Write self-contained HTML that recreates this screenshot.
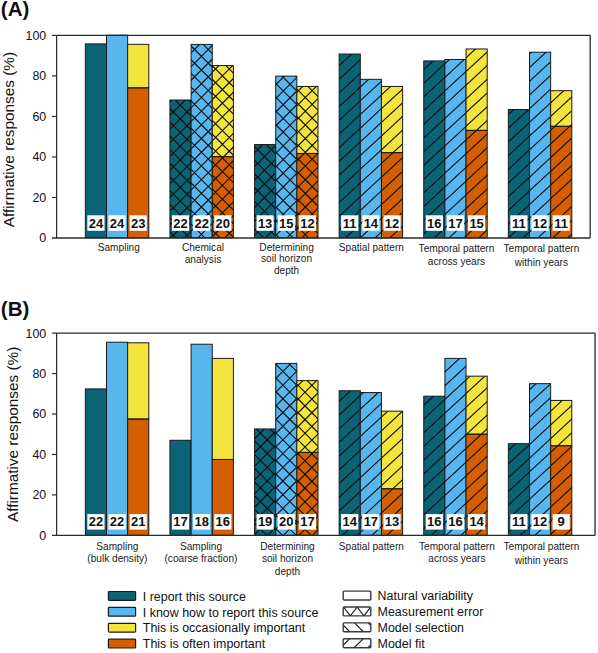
<!DOCTYPE html><html><head><meta charset="utf-8"><style>html,body{margin:0;padding:0;background:#fff;width:598px;height:653px;overflow:hidden}svg{display:block}text{font-family:"Liberation Sans", sans-serif}</style></head><body>
<svg width="598" height="653" viewBox="0 0 598 653">
<text x="0.8" y="16.1" font-size="20.6" font-weight="bold" fill="#111">(A)</text>
<rect x="85.35" y="43.91" width="21.15" height="193.79" fill="#0a6476"/>
<rect x="85.35" y="43.91" width="21.15" height="193.79" fill="none" stroke="#1a1a1a" stroke-width="1"/>
<rect x="87.33" y="215.30" width="17.2" height="15.5" fill="#fff"/>
<text x="95.92" y="227.80" font-size="13" font-weight="bold" text-anchor="middle" fill="#111">24</text>
<rect x="106.50" y="35.20" width="21.15" height="202.50" fill="#57b6ed"/>
<rect x="106.50" y="35.20" width="21.15" height="202.50" fill="none" stroke="#1a1a1a" stroke-width="1"/>
<rect x="108.48" y="215.30" width="17.2" height="15.5" fill="#fff"/>
<text x="117.08" y="227.80" font-size="13" font-weight="bold" text-anchor="middle" fill="#111">24</text>
<rect x="127.65" y="44.31" width="21.15" height="43.54" fill="#f3e53c"/>
<rect x="127.65" y="87.85" width="21.15" height="149.85" fill="#d55e00"/>
<rect x="127.65" y="44.31" width="21.15" height="43.54" fill="none" stroke="#1a1a1a" stroke-width="1"/>
<rect x="127.65" y="87.85" width="21.15" height="149.85" fill="none" stroke="#1a1a1a" stroke-width="1"/>
<rect x="129.62" y="215.30" width="17.2" height="15.5" fill="#fff"/>
<text x="138.22" y="227.80" font-size="13" font-weight="bold" text-anchor="middle" fill="#111">23</text>
<text x="118.82" y="250.80" font-size="10.1" text-anchor="middle" fill="#222">Sampling</text>
<rect x="169.95" y="100.00" width="21.15" height="137.70" fill="#0a6476"/>
<clipPath id="c1"><rect x="169.95" y="100.00" width="21.15" height="137.70"/></clipPath>
<path d="M4.50 239.70L146.20 98.00M18.20 239.70L159.90 98.00M31.90 239.70L173.60 98.00M45.60 239.70L187.30 98.00M59.30 239.70L201.00 98.00M73.00 239.70L214.70 98.00M86.70 239.70L228.40 98.00M100.40 239.70L242.10 98.00M114.10 239.70L255.80 98.00M127.80 239.70L269.50 98.00M141.50 239.70L283.20 98.00M155.20 239.70L296.90 98.00M168.90 239.70L310.60 98.00M182.60 239.70L324.30 98.00M196.30 239.70L338.00 98.00M210.00 239.70L351.70 98.00M8.70 98.00L150.40 239.70M22.40 98.00L164.10 239.70M36.10 98.00L177.80 239.70M49.80 98.00L191.50 239.70M63.50 98.00L205.20 239.70M77.20 98.00L218.90 239.70M90.90 98.00L232.60 239.70M104.60 98.00L246.30 239.70M118.30 98.00L260.00 239.70M132.00 98.00L273.70 239.70M145.70 98.00L287.40 239.70M159.40 98.00L301.10 239.70M173.10 98.00L314.80 239.70M186.80 98.00L328.50 239.70M200.50 98.00L342.20 239.70M214.20 98.00L355.90 239.70" stroke="#0d0d0d" stroke-width="1.1" fill="none" clip-path="url(#c1)"/>
<rect x="169.95" y="100.00" width="21.15" height="137.70" fill="none" stroke="#1a1a1a" stroke-width="1"/>
<rect x="171.92" y="215.30" width="17.2" height="15.5" fill="#fff"/>
<text x="180.52" y="227.80" font-size="13" font-weight="bold" text-anchor="middle" fill="#111">22</text>
<rect x="191.10" y="44.41" width="21.15" height="193.29" fill="#57b6ed"/>
<clipPath id="c2"><rect x="191.10" y="44.41" width="21.15" height="193.29"/></clipPath>
<path d="M-23.10 239.70L174.19 42.41M-9.40 239.70L187.89 42.41M4.30 239.70L201.59 42.41M18.00 239.70L215.29 42.41M31.70 239.70L228.99 42.41M45.40 239.70L242.69 42.41M59.10 239.70L256.39 42.41M72.80 239.70L270.09 42.41M86.50 239.70L283.79 42.41M100.20 239.70L297.49 42.41M113.90 239.70L311.19 42.41M127.60 239.70L324.89 42.41M141.30 239.70L338.59 42.41M155.00 239.70L352.29 42.41M168.70 239.70L365.99 42.41M182.40 239.70L379.69 42.41M196.10 239.70L393.39 42.41M209.80 239.70L407.09 42.41M223.50 239.70L420.79 42.41M237.20 239.70L434.49 42.41M-17.99 42.41L179.30 239.70M-4.29 42.41L193.00 239.70M9.41 42.41L206.70 239.70M23.11 42.41L220.40 239.70M36.81 42.41L234.10 239.70M50.51 42.41L247.80 239.70M64.21 42.41L261.50 239.70M77.91 42.41L275.20 239.70M91.61 42.41L288.90 239.70M105.31 42.41L302.60 239.70M119.01 42.41L316.30 239.70M132.71 42.41L330.00 239.70M146.41 42.41L343.70 239.70M160.11 42.41L357.40 239.70M173.81 42.41L371.10 239.70M187.51 42.41L384.80 239.70M201.21 42.41L398.50 239.70M214.91 42.41L412.20 239.70M228.61 42.41L425.90 239.70" stroke="#0d0d0d" stroke-width="1.1" fill="none" clip-path="url(#c2)"/>
<rect x="191.10" y="44.41" width="21.15" height="193.29" fill="none" stroke="#1a1a1a" stroke-width="1"/>
<rect x="193.07" y="215.30" width="17.2" height="15.5" fill="#fff"/>
<text x="201.67" y="227.80" font-size="13" font-weight="bold" text-anchor="middle" fill="#111">22</text>
<rect x="212.25" y="65.57" width="21.15" height="91.12" fill="#f3e53c"/>
<rect x="212.25" y="156.70" width="21.15" height="81.00" fill="#d55e00"/>
<clipPath id="c3"><rect x="212.25" y="65.57" width="21.15" height="172.12"/></clipPath>
<path d="M17.40 239.70L193.53 63.57M31.10 239.70L207.23 63.57M44.80 239.70L220.93 63.57M58.50 239.70L234.63 63.57M72.20 239.70L248.33 63.57M85.90 239.70L262.03 63.57M99.60 239.70L275.73 63.57M113.30 239.70L289.43 63.57M127.00 239.70L303.13 63.57M140.70 239.70L316.83 63.57M154.40 239.70L330.53 63.57M168.10 239.70L344.23 63.57M181.80 239.70L357.93 63.57M195.50 239.70L371.63 63.57M209.20 239.70L385.33 63.57M222.90 239.70L399.03 63.57M236.60 239.70L412.73 63.57M250.30 239.70L426.43 63.57M18.38 63.57L194.50 239.70M32.08 63.57L208.20 239.70M45.78 63.57L221.90 239.70M59.48 63.57L235.60 239.70M73.18 63.57L249.30 239.70M86.88 63.57L263.00 239.70M100.58 63.57L276.70 239.70M114.28 63.57L290.40 239.70M127.98 63.57L304.10 239.70M141.68 63.57L317.80 239.70M155.38 63.57L331.50 239.70M169.07 63.57L345.20 239.70M182.78 63.57L358.90 239.70M196.47 63.57L372.60 239.70M210.18 63.57L386.30 239.70M223.88 63.57L400.00 239.70M237.57 63.57L413.70 239.70M251.28 63.57L427.40 239.70" stroke="#0d0d0d" stroke-width="1.1" fill="none" clip-path="url(#c3)"/>
<rect x="212.25" y="65.57" width="21.15" height="91.12" fill="none" stroke="#1a1a1a" stroke-width="1"/>
<rect x="212.25" y="156.70" width="21.15" height="81.00" fill="none" stroke="#1a1a1a" stroke-width="1"/>
<rect x="214.22" y="215.30" width="17.2" height="15.5" fill="#fff"/>
<text x="222.82" y="227.80" font-size="13" font-weight="bold" text-anchor="middle" fill="#111">20</text>
<text x="202.97" y="250.60" font-size="10.1" text-anchor="middle" fill="#222">Chemical</text>
<text x="202.97" y="263.10" font-size="10.1" text-anchor="middle" fill="#222">analysis</text>
<rect x="254.55" y="144.55" width="21.15" height="93.15" fill="#0a6476"/>
<clipPath id="c4"><rect x="254.55" y="144.55" width="21.15" height="93.15"/></clipPath>
<path d="M140.20 239.70L237.35 142.55M153.90 239.70L251.05 142.55M167.60 239.70L264.75 142.55M181.30 239.70L278.45 142.55M195.00 239.70L292.15 142.55M208.70 239.70L305.85 142.55M222.40 239.70L319.55 142.55M236.10 239.70L333.25 142.55M249.80 239.70L346.95 142.55M263.50 239.70L360.65 142.55M277.20 239.70L374.35 142.55M290.90 239.70L388.05 142.55M140.95 142.55L238.10 239.70M154.65 142.55L251.80 239.70M168.35 142.55L265.50 239.70M182.05 142.55L279.20 239.70M195.75 142.55L292.90 239.70M209.45 142.55L306.60 239.70M223.15 142.55L320.30 239.70M236.85 142.55L334.00 239.70M250.55 142.55L347.70 239.70M264.25 142.55L361.40 239.70M277.95 142.55L375.10 239.70M291.65 142.55L388.80 239.70" stroke="#0d0d0d" stroke-width="1.1" fill="none" clip-path="url(#c4)"/>
<rect x="254.55" y="144.55" width="21.15" height="93.15" fill="none" stroke="#1a1a1a" stroke-width="1"/>
<rect x="256.52" y="215.30" width="17.2" height="15.5" fill="#fff"/>
<text x="265.12" y="227.80" font-size="13" font-weight="bold" text-anchor="middle" fill="#111">13</text>
<rect x="275.70" y="76.10" width="21.15" height="161.59" fill="#57b6ed"/>
<clipPath id="c5"><rect x="275.70" y="76.10" width="21.15" height="161.59"/></clipPath>
<path d="M93.40 239.70L259.00 74.10M107.10 239.70L272.70 74.10M120.80 239.70L286.39 74.10M134.50 239.70L300.10 74.10M148.20 239.70L313.79 74.10M161.90 239.70L327.50 74.10M175.60 239.70L341.20 74.10M189.30 239.70L354.89 74.10M203.00 239.70L368.60 74.10M216.70 239.70L382.29 74.10M230.40 239.70L396.00 74.10M244.10 239.70L409.69 74.10M257.80 239.70L423.39 74.10M271.50 239.70L437.10 74.10M285.20 239.70L450.79 74.10M298.90 239.70L464.50 74.10M312.60 239.70L478.19 74.10M88.20 74.10L253.80 239.70M101.90 74.10L267.50 239.70M115.60 74.10L281.20 239.70M129.30 74.10L294.90 239.70M143.00 74.10L308.60 239.70M156.70 74.10L322.30 239.70M170.40 74.10L336.00 239.70M184.10 74.10L349.70 239.70M197.80 74.10L363.40 239.70M211.50 74.10L377.10 239.70M225.20 74.10L390.80 239.70M238.90 74.10L404.50 239.70M252.60 74.10L418.20 239.70M266.30 74.10L431.90 239.70M280.00 74.10L445.60 239.70M293.70 74.10L459.30 239.70M307.40 74.10L473.00 239.70M321.11 74.10L486.70 239.70" stroke="#0d0d0d" stroke-width="1.1" fill="none" clip-path="url(#c5)"/>
<rect x="275.70" y="76.10" width="21.15" height="161.59" fill="none" stroke="#1a1a1a" stroke-width="1"/>
<rect x="277.67" y="215.30" width="17.2" height="15.5" fill="#fff"/>
<text x="286.27" y="227.80" font-size="13" font-weight="bold" text-anchor="middle" fill="#111">15</text>
<rect x="296.85" y="86.43" width="21.15" height="67.03" fill="#f3e53c"/>
<rect x="296.85" y="153.46" width="21.15" height="84.24" fill="#d55e00"/>
<clipPath id="c6"><rect x="296.85" y="86.43" width="21.15" height="151.27"/></clipPath>
<path d="M122.00 239.70L277.27 84.43M135.70 239.70L290.97 84.43M149.40 239.70L304.67 84.43M163.10 239.70L318.37 84.43M176.80 239.70L332.07 84.43M190.50 239.70L345.77 84.43M204.20 239.70L359.47 84.43M217.90 239.70L373.17 84.43M231.60 239.70L386.87 84.43M245.30 239.70L400.57 84.43M259.00 239.70L414.27 84.43M272.70 239.70L427.97 84.43M286.40 239.70L441.67 84.43M300.10 239.70L455.37 84.43M313.80 239.70L469.07 84.43M327.50 239.70L482.77 84.43M341.20 239.70L496.47 84.43M127.83 84.43L283.10 239.70M141.53 84.43L296.80 239.70M155.23 84.43L310.50 239.70M168.93 84.43L324.20 239.70M182.63 84.43L337.90 239.70M196.33 84.43L351.60 239.70M210.03 84.43L365.30 239.70M223.73 84.43L379.00 239.70M237.43 84.43L392.70 239.70M251.13 84.43L406.40 239.70M264.83 84.43L420.10 239.70M278.53 84.43L433.80 239.70M292.23 84.43L447.50 239.70M305.93 84.43L461.20 239.70M319.63 84.43L474.90 239.70M333.33 84.43L488.60 239.70" stroke="#0d0d0d" stroke-width="1.1" fill="none" clip-path="url(#c6)"/>
<rect x="296.85" y="86.43" width="21.15" height="67.03" fill="none" stroke="#1a1a1a" stroke-width="1"/>
<rect x="296.85" y="153.46" width="21.15" height="84.24" fill="none" stroke="#1a1a1a" stroke-width="1"/>
<rect x="298.82" y="215.30" width="17.2" height="15.5" fill="#fff"/>
<text x="307.42" y="227.80" font-size="13" font-weight="bold" text-anchor="middle" fill="#111">12</text>
<text x="286.57" y="250.90" font-size="10.1" text-anchor="middle" fill="#222">Determining</text>
<text x="286.57" y="262.00" font-size="10.1" text-anchor="middle" fill="#222">soil horizon</text>
<text x="286.57" y="274.30" font-size="10.1" text-anchor="middle" fill="#222">depth</text>
<rect x="339.15" y="54.03" width="21.15" height="183.67" fill="#0a6476"/>
<clipPath id="c7"><rect x="339.15" y="54.03" width="21.15" height="183.67"/></clipPath>
<path d="M337.15 40.01L362.30 16.74M337.15 53.71L362.30 30.44M337.15 67.41L362.30 44.14M337.15 81.11L362.30 57.84M337.15 94.81L362.30 71.54M337.15 108.51L362.30 85.24M337.15 122.21L362.30 98.94M337.15 135.91L362.30 112.64M337.15 149.61L362.30 126.34M337.15 163.31L362.30 140.04M337.15 177.01L362.30 153.74M337.15 190.71L362.30 167.44M337.15 204.41L362.30 181.14M337.15 218.11L362.30 194.84M337.15 231.81L362.30 208.54M337.15 245.51L362.30 222.24M337.15 259.21L362.30 235.94M337.15 272.91L362.30 249.64" stroke="#0d0d0d" stroke-width="1.1" fill="none" clip-path="url(#c7)"/>
<rect x="339.15" y="54.03" width="21.15" height="183.67" fill="none" stroke="#1a1a1a" stroke-width="1"/>
<rect x="341.12" y="215.30" width="17.2" height="15.5" fill="#fff"/>
<text x="349.72" y="227.80" font-size="13" font-weight="bold" text-anchor="middle" fill="#111">11</text>
<rect x="360.30" y="79.34" width="21.15" height="158.35" fill="#57b6ed"/>
<clipPath id="c8"><rect x="360.30" y="79.34" width="21.15" height="158.35"/></clipPath>
<path d="M358.30 61.54L383.45 38.28M358.30 75.24L383.45 51.98M358.30 88.94L383.45 65.68M358.30 102.64L383.45 79.38M358.30 116.34L383.45 93.08M358.30 130.04L383.45 106.78M358.30 143.74L383.45 120.48M358.30 157.44L383.45 134.18M358.30 171.14L383.45 147.88M358.30 184.84L383.45 161.58M358.30 198.54L383.45 175.28M358.30 212.24L383.45 188.98M358.30 225.94L383.45 202.68M358.30 239.64L383.45 216.38M358.30 253.34L383.45 230.08M358.30 267.04L383.45 243.78M358.30 280.74L383.45 257.48" stroke="#0d0d0d" stroke-width="1.1" fill="none" clip-path="url(#c8)"/>
<rect x="360.30" y="79.34" width="21.15" height="158.35" fill="none" stroke="#1a1a1a" stroke-width="1"/>
<rect x="362.27" y="215.30" width="17.2" height="15.5" fill="#fff"/>
<text x="370.87" y="227.80" font-size="13" font-weight="bold" text-anchor="middle" fill="#111">14</text>
<rect x="381.45" y="86.43" width="21.15" height="66.22" fill="#f3e53c"/>
<rect x="381.45" y="152.65" width="21.15" height="85.05" fill="#d55e00"/>
<clipPath id="c9"><rect x="381.45" y="86.43" width="21.15" height="151.27"/></clipPath>
<path d="M379.45 69.38L404.60 46.11M379.45 83.08L404.60 59.81M379.45 96.78L404.60 73.51M379.45 110.48L404.60 87.21M379.45 124.18L404.60 100.91M379.45 137.88L404.60 114.61M379.45 151.58L404.60 128.31M379.45 165.28L404.60 142.01M379.45 178.98L404.60 155.71M379.45 192.68L404.60 169.41M379.45 206.38L404.60 183.11M379.45 220.08L404.60 196.81M379.45 233.78L404.60 210.51M379.45 247.48L404.60 224.21M379.45 261.18L404.60 237.91M379.45 274.88L404.60 251.61" stroke="#0d0d0d" stroke-width="1.1" fill="none" clip-path="url(#c9)"/>
<rect x="381.45" y="86.43" width="21.15" height="66.22" fill="none" stroke="#1a1a1a" stroke-width="1"/>
<rect x="381.45" y="152.65" width="21.15" height="85.05" fill="none" stroke="#1a1a1a" stroke-width="1"/>
<rect x="383.42" y="215.30" width="17.2" height="15.5" fill="#fff"/>
<text x="392.02" y="227.80" font-size="13" font-weight="bold" text-anchor="middle" fill="#111">12</text>
<text x="371.38" y="251.00" font-size="10.1" text-anchor="middle" fill="#222">Spatial pattern</text>
<rect x="423.75" y="60.92" width="21.15" height="176.78" fill="#0a6476"/>
<clipPath id="c10"><rect x="423.75" y="60.92" width="21.15" height="176.78"/></clipPath>
<path d="M421.75 43.95L446.90 20.69M421.75 57.65L446.90 34.39M421.75 71.35L446.90 48.09M421.75 85.05L446.90 61.79M421.75 98.75L446.90 75.49M421.75 112.45L446.90 89.19M421.75 126.15L446.90 102.89M421.75 139.85L446.90 116.59M421.75 153.55L446.90 130.29M421.75 167.25L446.90 143.99M421.75 180.95L446.90 157.69M421.75 194.65L446.90 171.39M421.75 208.35L446.90 185.09M421.75 222.05L446.90 198.79M421.75 235.75L446.90 212.49M421.75 249.45L446.90 226.19M421.75 263.15L446.90 239.89M421.75 276.85L446.90 253.59" stroke="#0d0d0d" stroke-width="1.1" fill="none" clip-path="url(#c10)"/>
<rect x="423.75" y="60.92" width="21.15" height="176.78" fill="none" stroke="#1a1a1a" stroke-width="1"/>
<rect x="425.72" y="215.30" width="17.2" height="15.5" fill="#fff"/>
<text x="434.32" y="227.80" font-size="13" font-weight="bold" text-anchor="middle" fill="#111">16</text>
<rect x="444.90" y="59.50" width="21.15" height="178.20" fill="#57b6ed"/>
<clipPath id="c11"><rect x="444.90" y="59.50" width="21.15" height="178.20"/></clipPath>
<path d="M442.90 38.09L468.05 14.82M442.90 51.79L468.05 28.52M442.90 65.49L468.05 42.22M442.90 79.19L468.05 55.92M442.90 92.89L468.05 69.62M442.90 106.59L468.05 83.32M442.90 120.29L468.05 97.02M442.90 133.99L468.05 110.72M442.90 147.69L468.05 124.42M442.90 161.39L468.05 138.12M442.90 175.09L468.05 151.82M442.90 188.79L468.05 165.52M442.90 202.49L468.05 179.22M442.90 216.19L468.05 192.92M442.90 229.89L468.05 206.62M442.90 243.59L468.05 220.32M442.90 257.29L468.05 234.02M442.90 270.99L468.05 247.72M442.90 284.69L468.05 261.42" stroke="#0d0d0d" stroke-width="1.1" fill="none" clip-path="url(#c11)"/>
<rect x="444.90" y="59.50" width="21.15" height="178.20" fill="none" stroke="#1a1a1a" stroke-width="1"/>
<rect x="446.87" y="215.30" width="17.2" height="15.5" fill="#fff"/>
<text x="455.47" y="227.80" font-size="13" font-weight="bold" text-anchor="middle" fill="#111">17</text>
<rect x="466.05" y="48.97" width="21.15" height="81.41" fill="#f3e53c"/>
<rect x="466.05" y="130.38" width="21.15" height="107.32" fill="#d55e00"/>
<clipPath id="c12"><rect x="466.05" y="48.97" width="21.15" height="188.73"/></clipPath>
<path d="M464.05 32.22L489.20 8.96M464.05 45.92L489.20 22.66M464.05 59.62L489.20 36.36M464.05 73.32L489.20 50.06M464.05 87.02L489.20 63.76M464.05 100.72L489.20 77.46M464.05 114.42L489.20 91.16M464.05 128.12L489.20 104.86M464.05 141.82L489.20 118.56M464.05 155.52L489.20 132.26M464.05 169.22L489.20 145.96M464.05 182.92L489.20 159.66M464.05 196.62L489.20 173.36M464.05 210.32L489.20 187.06M464.05 224.02L489.20 200.76M464.05 237.72L489.20 214.46M464.05 251.42L489.20 228.16M464.05 265.12L489.20 241.86M464.05 278.82L489.20 255.56" stroke="#0d0d0d" stroke-width="1.1" fill="none" clip-path="url(#c12)"/>
<rect x="466.05" y="48.97" width="21.15" height="81.41" fill="none" stroke="#1a1a1a" stroke-width="1"/>
<rect x="466.05" y="130.38" width="21.15" height="107.32" fill="none" stroke="#1a1a1a" stroke-width="1"/>
<rect x="468.02" y="215.30" width="17.2" height="15.5" fill="#fff"/>
<text x="476.62" y="227.80" font-size="13" font-weight="bold" text-anchor="middle" fill="#111">15</text>
<text x="456.48" y="251.70" font-size="10.1" text-anchor="middle" fill="#222">Temporal pattern</text>
<text x="456.48" y="264.60" font-size="10.1" text-anchor="middle" fill="#222">across years</text>
<rect x="508.35" y="109.52" width="21.15" height="128.18" fill="#0a6476"/>
<clipPath id="c13"><rect x="508.35" y="109.52" width="21.15" height="128.18"/></clipPath>
<path d="M506.35 89.00L531.50 65.73M506.35 102.70L531.50 79.43M506.35 116.40L531.50 93.13M506.35 130.10L531.50 106.83M506.35 143.80L531.50 120.53M506.35 157.50L531.50 134.23M506.35 171.20L531.50 147.93M506.35 184.90L531.50 161.63M506.35 198.60L531.50 175.33M506.35 212.30L531.50 189.03M506.35 226.00L531.50 202.73M506.35 239.70L531.50 216.43M506.35 253.40L531.50 230.13M506.35 267.10L531.50 243.83M506.35 280.80L531.50 257.53" stroke="#0d0d0d" stroke-width="1.1" fill="none" clip-path="url(#c13)"/>
<rect x="508.35" y="109.52" width="21.15" height="128.18" fill="none" stroke="#1a1a1a" stroke-width="1"/>
<rect x="510.33" y="215.30" width="17.2" height="15.5" fill="#fff"/>
<text x="518.93" y="227.80" font-size="13" font-weight="bold" text-anchor="middle" fill="#111">11</text>
<rect x="529.50" y="52.21" width="21.15" height="185.49" fill="#57b6ed"/>
<clipPath id="c14"><rect x="529.50" y="52.21" width="21.15" height="185.49"/></clipPath>
<path d="M527.50 28.33L552.65 5.07M527.50 42.03L552.65 18.77M527.50 55.73L552.65 32.47M527.50 69.43L552.65 46.17M527.50 83.13L552.65 59.87M527.50 96.83L552.65 73.57M527.50 110.53L552.65 87.27M527.50 124.23L552.65 100.97M527.50 137.93L552.65 114.67M527.50 151.63L552.65 128.37M527.50 165.33L552.65 142.07M527.50 179.03L552.65 155.77M527.50 192.73L552.65 169.47M527.50 206.43L552.65 183.17M527.50 220.13L552.65 196.87M527.50 233.83L552.65 210.57M527.50 247.53L552.65 224.27M527.50 261.23L552.65 237.97M527.50 274.93L552.65 251.67" stroke="#0d0d0d" stroke-width="1.1" fill="none" clip-path="url(#c14)"/>
<rect x="529.50" y="52.21" width="21.15" height="185.49" fill="none" stroke="#1a1a1a" stroke-width="1"/>
<rect x="531.48" y="215.30" width="17.2" height="15.5" fill="#fff"/>
<text x="540.08" y="227.80" font-size="13" font-weight="bold" text-anchor="middle" fill="#111">12</text>
<rect x="550.65" y="90.69" width="21.15" height="35.64" fill="#f3e53c"/>
<rect x="550.65" y="126.32" width="21.15" height="111.38" fill="#d55e00"/>
<clipPath id="c15"><rect x="550.65" y="90.69" width="21.15" height="147.01"/></clipPath>
<path d="M548.65 77.27L573.80 54.00M548.65 90.97L573.80 67.70M548.65 104.67L573.80 81.40M548.65 118.37L573.80 95.10M548.65 132.07L573.80 108.80M548.65 145.77L573.80 122.50M548.65 159.47L573.80 136.20M548.65 173.17L573.80 149.90M548.65 186.87L573.80 163.60M548.65 200.57L573.80 177.30M548.65 214.27L573.80 191.00M548.65 227.97L573.80 204.70M548.65 241.67L573.80 218.40M548.65 255.37L573.80 232.10M548.65 269.07L573.80 245.80M548.65 282.77L573.80 259.50" stroke="#0d0d0d" stroke-width="1.1" fill="none" clip-path="url(#c15)"/>
<rect x="550.65" y="90.69" width="21.15" height="35.64" fill="none" stroke="#1a1a1a" stroke-width="1"/>
<rect x="550.65" y="126.32" width="21.15" height="111.38" fill="none" stroke="#1a1a1a" stroke-width="1"/>
<rect x="552.62" y="215.30" width="17.2" height="15.5" fill="#fff"/>
<text x="561.23" y="227.80" font-size="13" font-weight="bold" text-anchor="middle" fill="#111">11</text>
<text x="541.38" y="251.70" font-size="10.1" text-anchor="middle" fill="#222">Temporal pattern</text>
<text x="541.38" y="266.00" font-size="10.1" text-anchor="middle" fill="#222">within years</text>
<path d="M56.6 35.4H590.2V238.0" fill="none" stroke="#2a2a2a" stroke-width="1.3"/>
<path d="M56.6 35.4V238.0" fill="none" stroke="#2a2a2a" stroke-width="1.2"/>
<path d="M52 238.0H590.2" fill="none" stroke="#2a2a2a" stroke-width="1.3"/>
<path d="M52 197.48H56.6" stroke="#2a2a2a" stroke-width="1.2"/>
<path d="M52 156.96H56.6" stroke="#2a2a2a" stroke-width="1.2"/>
<path d="M52 116.44H56.6" stroke="#2a2a2a" stroke-width="1.2"/>
<path d="M52 75.92H56.6" stroke="#2a2a2a" stroke-width="1.2"/>
<path d="M52 35.40H56.6" stroke="#2a2a2a" stroke-width="1.2"/>
<text x="46.2" y="242.10" font-size="12.4" text-anchor="end" fill="#111">0</text>
<text x="46.2" y="201.60" font-size="12.4" text-anchor="end" fill="#111">20</text>
<text x="46.2" y="161.10" font-size="12.4" text-anchor="end" fill="#111">40</text>
<text x="46.2" y="120.60" font-size="12.4" text-anchor="end" fill="#111">60</text>
<text x="46.2" y="80.10" font-size="12.4" text-anchor="end" fill="#111">80</text>
<text x="46.2" y="39.60" font-size="12.4" text-anchor="end" fill="#111">100</text>
<text transform="translate(13.8,139.6) rotate(-90)" font-size="15.35" text-anchor="middle" fill="#111">Affirmative responses (%)</text>
<text x="0.8" y="316.0" font-size="20.6" font-weight="bold" fill="#111">(B)</text>
<rect x="85.35" y="388.91" width="21.15" height="146.39" fill="#0a6476"/>
<rect x="85.35" y="388.91" width="21.15" height="146.39" fill="none" stroke="#1a1a1a" stroke-width="1"/>
<rect x="87.33" y="514.10" width="17.2" height="15.5" fill="#fff"/>
<text x="95.92" y="526.10" font-size="13" font-weight="bold" text-anchor="middle" fill="#111">22</text>
<rect x="106.50" y="342.20" width="21.15" height="193.10" fill="#57b6ed"/>
<rect x="106.50" y="342.20" width="21.15" height="193.10" fill="none" stroke="#1a1a1a" stroke-width="1"/>
<rect x="108.48" y="514.10" width="17.2" height="15.5" fill="#fff"/>
<text x="117.08" y="526.10" font-size="13" font-weight="bold" text-anchor="middle" fill="#111">22</text>
<rect x="127.65" y="342.81" width="21.15" height="76.23" fill="#f3e53c"/>
<rect x="127.65" y="419.03" width="21.15" height="116.26" fill="#d55e00"/>
<rect x="127.65" y="342.81" width="21.15" height="76.23" fill="none" stroke="#1a1a1a" stroke-width="1"/>
<rect x="127.65" y="419.03" width="21.15" height="116.26" fill="none" stroke="#1a1a1a" stroke-width="1"/>
<rect x="129.62" y="514.10" width="17.2" height="15.5" fill="#fff"/>
<text x="138.22" y="526.10" font-size="13" font-weight="bold" text-anchor="middle" fill="#111">21</text>
<text x="117.37" y="549.70" font-size="10.1" text-anchor="middle" fill="#222">Sampling</text>
<text x="117.37" y="562.10" font-size="10.1" text-anchor="middle" fill="#222">(bulk density)</text>
<rect x="169.95" y="440.27" width="21.15" height="95.03" fill="#0a6476"/>
<rect x="169.95" y="440.27" width="21.15" height="95.03" fill="none" stroke="#1a1a1a" stroke-width="1"/>
<rect x="171.92" y="514.10" width="17.2" height="15.5" fill="#fff"/>
<text x="180.52" y="526.10" font-size="13" font-weight="bold" text-anchor="middle" fill="#111">17</text>
<rect x="191.10" y="344.22" width="21.15" height="191.08" fill="#57b6ed"/>
<rect x="191.10" y="344.22" width="21.15" height="191.08" fill="none" stroke="#1a1a1a" stroke-width="1"/>
<rect x="193.07" y="514.10" width="17.2" height="15.5" fill="#fff"/>
<text x="201.67" y="526.10" font-size="13" font-weight="bold" text-anchor="middle" fill="#111">18</text>
<rect x="212.25" y="358.38" width="21.15" height="101.10" fill="#f3e53c"/>
<rect x="212.25" y="459.47" width="21.15" height="75.82" fill="#d55e00"/>
<rect x="212.25" y="358.38" width="21.15" height="101.10" fill="none" stroke="#1a1a1a" stroke-width="1"/>
<rect x="212.25" y="459.47" width="21.15" height="75.82" fill="none" stroke="#1a1a1a" stroke-width="1"/>
<rect x="214.22" y="514.10" width="17.2" height="15.5" fill="#fff"/>
<text x="222.82" y="526.10" font-size="13" font-weight="bold" text-anchor="middle" fill="#111">16</text>
<text x="200.97" y="549.70" font-size="10.1" text-anchor="middle" fill="#222">Sampling</text>
<text x="200.97" y="562.10" font-size="10.1" text-anchor="middle" fill="#222">(coarse fraction)</text>
<rect x="254.55" y="428.94" width="21.15" height="106.36" fill="#0a6476"/>
<clipPath id="c16"><rect x="254.55" y="428.94" width="21.15" height="106.36"/></clipPath>
<path d="M128.70 537.30L239.06 426.94M142.40 537.30L252.76 426.94M156.10 537.30L266.46 426.94M169.80 537.30L280.16 426.94M183.50 537.30L293.86 426.94M197.20 537.30L307.56 426.94M210.90 537.30L321.26 426.94M224.60 537.30L334.96 426.94M238.30 537.30L348.66 426.94M252.00 537.30L362.36 426.94M265.70 537.30L376.06 426.94M279.40 537.30L389.76 426.94M293.10 537.30L403.46 426.94M131.04 426.94L241.40 537.30M144.74 426.94L255.10 537.30M158.44 426.94L268.80 537.30M172.14 426.94L282.50 537.30M185.84 426.94L296.20 537.30M199.54 426.94L309.90 537.30M213.24 426.94L323.60 537.30M226.94 426.94L337.30 537.30M240.64 426.94L351.00 537.30M254.34 426.94L364.70 537.30M268.04 426.94L378.40 537.30M281.74 426.94L392.10 537.30M295.44 426.94L405.80 537.30" stroke="#0d0d0d" stroke-width="1.1" fill="none" clip-path="url(#c16)"/>
<rect x="254.55" y="428.94" width="21.15" height="106.36" fill="none" stroke="#1a1a1a" stroke-width="1"/>
<rect x="256.52" y="514.10" width="17.2" height="15.5" fill="#fff"/>
<text x="265.12" y="526.10" font-size="13" font-weight="bold" text-anchor="middle" fill="#111">19</text>
<rect x="275.70" y="363.43" width="21.15" height="171.87" fill="#57b6ed"/>
<clipPath id="c17"><rect x="275.70" y="363.43" width="21.15" height="171.87"/></clipPath>
<path d="M75.90 537.30L251.77 361.43M89.60 537.30L265.47 361.43M103.30 537.30L279.17 361.43M117.00 537.30L292.87 361.43M130.70 537.30L306.57 361.43M144.40 537.30L320.27 361.43M158.10 537.30L333.97 361.43M171.80 537.30L347.67 361.43M185.50 537.30L361.37 361.43M199.20 537.30L375.07 361.43M212.90 537.30L388.77 361.43M226.60 537.30L402.47 361.43M240.30 537.30L416.17 361.43M254.00 537.30L429.87 361.43M267.70 537.30L443.57 361.43M281.40 537.30L457.27 361.43M295.10 537.30L470.97 361.43M308.80 537.30L484.67 361.43M81.13 361.43L257.00 537.30M94.83 361.43L270.70 537.30M108.53 361.43L284.40 537.30M122.23 361.43L298.10 537.30M135.93 361.43L311.80 537.30M149.63 361.43L325.50 537.30M163.33 361.43L339.20 537.30M177.03 361.43L352.90 537.30M190.73 361.43L366.60 537.30M204.43 361.43L380.30 537.30M218.13 361.43L394.00 537.30M231.83 361.43L407.70 537.30M245.53 361.43L421.40 537.30M259.23 361.43L435.10 537.30M272.93 361.43L448.80 537.30M286.63 361.43L462.50 537.30M300.33 361.43L476.20 537.30M314.03 361.43L489.90 537.30" stroke="#0d0d0d" stroke-width="1.1" fill="none" clip-path="url(#c17)"/>
<rect x="275.70" y="363.43" width="21.15" height="171.87" fill="none" stroke="#1a1a1a" stroke-width="1"/>
<rect x="277.67" y="514.10" width="17.2" height="15.5" fill="#fff"/>
<text x="286.27" y="526.10" font-size="13" font-weight="bold" text-anchor="middle" fill="#111">20</text>
<rect x="296.85" y="380.62" width="21.15" height="71.78" fill="#f3e53c"/>
<rect x="296.85" y="452.40" width="21.15" height="82.90" fill="#d55e00"/>
<clipPath id="c18"><rect x="296.85" y="380.62" width="21.15" height="154.68"/></clipPath>
<path d="M118.80 537.30L277.48 378.62M132.50 537.30L291.18 378.62M146.20 537.30L304.88 378.62M159.90 537.30L318.58 378.62M173.60 537.30L332.28 378.62M187.30 537.30L345.98 378.62M201.00 537.30L359.68 378.62M214.70 537.30L373.38 378.62M228.40 537.30L387.08 378.62M242.10 537.30L400.78 378.62M255.80 537.30L414.48 378.62M269.50 537.30L428.18 378.62M283.20 537.30L441.88 378.62M296.90 537.30L455.58 378.62M310.60 537.30L469.28 378.62M324.30 537.30L482.98 378.62M338.00 537.30L496.68 378.62M113.32 378.62L272.00 537.30M127.02 378.62L285.70 537.30M140.72 378.62L299.40 537.30M154.42 378.62L313.10 537.30M168.12 378.62L326.80 537.30M181.82 378.62L340.50 537.30M195.52 378.62L354.20 537.30M209.22 378.62L367.90 537.30M222.92 378.62L381.60 537.30M236.62 378.62L395.30 537.30M250.32 378.62L409.00 537.30M264.02 378.62L422.70 537.30M277.72 378.62L436.40 537.30M291.42 378.62L450.10 537.30M305.12 378.62L463.80 537.30M318.82 378.62L477.50 537.30M332.52 378.62L491.20 537.30" stroke="#0d0d0d" stroke-width="1.1" fill="none" clip-path="url(#c18)"/>
<rect x="296.85" y="380.62" width="21.15" height="71.78" fill="none" stroke="#1a1a1a" stroke-width="1"/>
<rect x="296.85" y="452.40" width="21.15" height="82.90" fill="none" stroke="#1a1a1a" stroke-width="1"/>
<rect x="298.82" y="514.10" width="17.2" height="15.5" fill="#fff"/>
<text x="307.42" y="526.10" font-size="13" font-weight="bold" text-anchor="middle" fill="#111">17</text>
<text x="287.47" y="549.80" font-size="10.1" text-anchor="middle" fill="#222">Determining</text>
<text x="287.47" y="562.10" font-size="10.1" text-anchor="middle" fill="#222">soil horizon</text>
<text x="287.47" y="575.10" font-size="10.1" text-anchor="middle" fill="#222">depth</text>
<rect x="339.15" y="390.73" width="21.15" height="144.57" fill="#0a6476"/>
<clipPath id="c19"><rect x="339.15" y="390.73" width="21.15" height="144.57"/></clipPath>
<path d="M337.15 375.79L362.30 352.53M337.15 389.49L362.30 366.23M337.15 403.19L362.30 379.93M337.15 416.89L362.30 393.63M337.15 430.59L362.30 407.33M337.15 444.29L362.30 421.03M337.15 457.99L362.30 434.73M337.15 471.69L362.30 448.43M337.15 485.39L362.30 462.13M337.15 499.09L362.30 475.83M337.15 512.79L362.30 489.53M337.15 526.49L362.30 503.23M337.15 540.19L362.30 516.93M337.15 553.89L362.30 530.63M337.15 567.59L362.30 544.33M337.15 581.29L362.30 558.03" stroke="#0d0d0d" stroke-width="1.1" fill="none" clip-path="url(#c19)"/>
<rect x="339.15" y="390.73" width="21.15" height="144.57" fill="none" stroke="#1a1a1a" stroke-width="1"/>
<rect x="341.12" y="514.10" width="17.2" height="15.5" fill="#fff"/>
<text x="349.72" y="526.10" font-size="13" font-weight="bold" text-anchor="middle" fill="#111">14</text>
<rect x="360.30" y="392.55" width="21.15" height="142.75" fill="#57b6ed"/>
<clipPath id="c20"><rect x="360.30" y="392.55" width="21.15" height="142.75"/></clipPath>
<path d="M358.30 369.93L383.45 346.66M358.30 383.63L383.45 360.36M358.30 397.33L383.45 374.06M358.30 411.03L383.45 387.76M358.30 424.73L383.45 401.46M358.30 438.43L383.45 415.16M358.30 452.13L383.45 428.86M358.30 465.83L383.45 442.56M358.30 479.53L383.45 456.26M358.30 493.23L383.45 469.96M358.30 506.93L383.45 483.66M358.30 520.63L383.45 497.36M358.30 534.33L383.45 511.06M358.30 548.03L383.45 524.76M358.30 561.73L383.45 538.46M358.30 575.43L383.45 552.16" stroke="#0d0d0d" stroke-width="1.1" fill="none" clip-path="url(#c20)"/>
<rect x="360.30" y="392.55" width="21.15" height="142.75" fill="none" stroke="#1a1a1a" stroke-width="1"/>
<rect x="362.27" y="514.10" width="17.2" height="15.5" fill="#fff"/>
<text x="370.87" y="526.10" font-size="13" font-weight="bold" text-anchor="middle" fill="#111">17</text>
<rect x="381.45" y="411.15" width="21.15" height="77.64" fill="#f3e53c"/>
<rect x="381.45" y="488.79" width="21.15" height="46.51" fill="#d55e00"/>
<clipPath id="c21"><rect x="381.45" y="411.15" width="21.15" height="124.15"/></clipPath>
<path d="M379.45 391.46L404.60 368.20M379.45 405.16L404.60 381.90M379.45 418.86L404.60 395.60M379.45 432.56L404.60 409.30M379.45 446.26L404.60 423.00M379.45 459.96L404.60 436.70M379.45 473.66L404.60 450.40M379.45 487.36L404.60 464.10M379.45 501.06L404.60 477.80M379.45 514.76L404.60 491.50M379.45 528.46L404.60 505.20M379.45 542.16L404.60 518.90M379.45 555.86L404.60 532.60M379.45 569.56L404.60 546.30M379.45 583.26L404.60 560.00" stroke="#0d0d0d" stroke-width="1.1" fill="none" clip-path="url(#c21)"/>
<rect x="381.45" y="411.15" width="21.15" height="77.64" fill="none" stroke="#1a1a1a" stroke-width="1"/>
<rect x="381.45" y="488.79" width="21.15" height="46.51" fill="none" stroke="#1a1a1a" stroke-width="1"/>
<rect x="383.42" y="514.10" width="17.2" height="15.5" fill="#fff"/>
<text x="392.02" y="526.10" font-size="13" font-weight="bold" text-anchor="middle" fill="#111">13</text>
<text x="371.38" y="550.00" font-size="10.1" text-anchor="middle" fill="#222">Spatial pattern</text>
<rect x="423.75" y="396.19" width="21.15" height="139.11" fill="#0a6476"/>
<clipPath id="c22"><rect x="423.75" y="396.19" width="21.15" height="139.11"/></clipPath>
<path d="M421.75 379.74L446.90 356.47M421.75 393.44L446.90 370.17M421.75 407.14L446.90 383.87M421.75 420.84L446.90 397.57M421.75 434.54L446.90 411.27M421.75 448.24L446.90 424.97M421.75 461.94L446.90 438.67M421.75 475.64L446.90 452.37M421.75 489.34L446.90 466.07M421.75 503.04L446.90 479.77M421.75 516.74L446.90 493.47M421.75 530.44L446.90 507.17M421.75 544.14L446.90 520.87M421.75 557.84L446.90 534.57M421.75 571.54L446.90 548.27" stroke="#0d0d0d" stroke-width="1.1" fill="none" clip-path="url(#c22)"/>
<rect x="423.75" y="396.19" width="21.15" height="139.11" fill="none" stroke="#1a1a1a" stroke-width="1"/>
<rect x="425.72" y="514.10" width="17.2" height="15.5" fill="#fff"/>
<text x="434.32" y="526.10" font-size="13" font-weight="bold" text-anchor="middle" fill="#111">16</text>
<rect x="444.90" y="358.38" width="21.15" height="176.92" fill="#57b6ed"/>
<clipPath id="c23"><rect x="444.90" y="358.38" width="21.15" height="176.92"/></clipPath>
<path d="M442.90 346.47L468.05 323.21M442.90 360.17L468.05 336.91M442.90 373.87L468.05 350.61M442.90 387.57L468.05 364.31M442.90 401.27L468.05 378.01M442.90 414.97L468.05 391.71M442.90 428.67L468.05 405.41M442.90 442.37L468.05 419.11M442.90 456.07L468.05 432.81M442.90 469.77L468.05 446.51M442.90 483.47L468.05 460.21M442.90 497.17L468.05 473.91M442.90 510.87L468.05 487.61M442.90 524.57L468.05 501.31M442.90 538.27L468.05 515.01M442.90 551.97L468.05 528.71M442.90 565.67L468.05 542.41M442.90 579.37L468.05 556.11" stroke="#0d0d0d" stroke-width="1.1" fill="none" clip-path="url(#c23)"/>
<rect x="444.90" y="358.38" width="21.15" height="176.92" fill="none" stroke="#1a1a1a" stroke-width="1"/>
<rect x="446.87" y="514.10" width="17.2" height="15.5" fill="#fff"/>
<text x="455.47" y="526.10" font-size="13" font-weight="bold" text-anchor="middle" fill="#111">16</text>
<rect x="466.05" y="376.17" width="21.15" height="58.03" fill="#f3e53c"/>
<rect x="466.05" y="434.20" width="21.15" height="101.10" fill="#d55e00"/>
<clipPath id="c24"><rect x="466.05" y="376.17" width="21.15" height="159.13"/></clipPath>
<path d="M464.05 354.31L489.20 331.05M464.05 368.01L489.20 344.75M464.05 381.71L489.20 358.45M464.05 395.41L489.20 372.15M464.05 409.11L489.20 385.85M464.05 422.81L489.20 399.55M464.05 436.51L489.20 413.25M464.05 450.21L489.20 426.95M464.05 463.91L489.20 440.65M464.05 477.61L489.20 454.35M464.05 491.31L489.20 468.05M464.05 505.01L489.20 481.75M464.05 518.71L489.20 495.45M464.05 532.41L489.20 509.14M464.05 546.11L489.20 522.85M464.05 559.81L489.20 536.55M464.05 573.51L489.20 550.25" stroke="#0d0d0d" stroke-width="1.1" fill="none" clip-path="url(#c24)"/>
<rect x="466.05" y="376.17" width="21.15" height="58.03" fill="none" stroke="#1a1a1a" stroke-width="1"/>
<rect x="466.05" y="434.20" width="21.15" height="101.10" fill="none" stroke="#1a1a1a" stroke-width="1"/>
<rect x="468.02" y="514.10" width="17.2" height="15.5" fill="#fff"/>
<text x="476.62" y="526.10" font-size="13" font-weight="bold" text-anchor="middle" fill="#111">14</text>
<text x="456.88" y="549.80" font-size="10.1" text-anchor="middle" fill="#222">Temporal pattern</text>
<text x="456.88" y="562.20" font-size="10.1" text-anchor="middle" fill="#222">across years</text>
<rect x="508.35" y="443.70" width="21.15" height="91.60" fill="#0a6476"/>
<clipPath id="c25"><rect x="508.35" y="443.70" width="21.15" height="91.60"/></clipPath>
<path d="M506.35 424.78L531.50 401.52M506.35 438.48L531.50 415.22M506.35 452.18L531.50 428.92M506.35 465.88L531.50 442.62M506.35 479.58L531.50 456.32M506.35 493.28L531.50 470.02M506.35 506.98L531.50 483.72M506.35 520.68L531.50 497.42M506.35 534.38L531.50 511.12M506.35 548.08L531.50 524.82M506.35 561.78L531.50 538.52M506.35 575.48L531.50 552.22" stroke="#0d0d0d" stroke-width="1.1" fill="none" clip-path="url(#c25)"/>
<rect x="508.35" y="443.70" width="21.15" height="91.60" fill="none" stroke="#1a1a1a" stroke-width="1"/>
<rect x="510.33" y="514.10" width="17.2" height="15.5" fill="#fff"/>
<text x="518.93" y="526.10" font-size="13" font-weight="bold" text-anchor="middle" fill="#111">11</text>
<rect x="529.50" y="383.65" width="21.15" height="151.65" fill="#57b6ed"/>
<clipPath id="c26"><rect x="529.50" y="383.65" width="21.15" height="151.65"/></clipPath>
<path d="M527.50 364.12L552.65 340.85M527.50 377.82L552.65 354.55M527.50 391.52L552.65 368.25M527.50 405.22L552.65 381.95M527.50 418.92L552.65 395.65M527.50 432.62L552.65 409.35M527.50 446.32L552.65 423.05M527.50 460.02L552.65 436.75M527.50 473.72L552.65 450.45M527.50 487.42L552.65 464.15M527.50 501.12L552.65 477.85M527.50 514.82L552.65 491.55M527.50 528.52L552.65 505.25M527.50 542.22L552.65 518.95M527.50 555.92L552.65 532.65M527.50 569.62L552.65 546.35M527.50 583.32L552.65 560.05" stroke="#0d0d0d" stroke-width="1.1" fill="none" clip-path="url(#c26)"/>
<rect x="529.50" y="383.65" width="21.15" height="151.65" fill="none" stroke="#1a1a1a" stroke-width="1"/>
<rect x="531.48" y="514.10" width="17.2" height="15.5" fill="#fff"/>
<text x="540.08" y="526.10" font-size="13" font-weight="bold" text-anchor="middle" fill="#111">12</text>
<rect x="550.65" y="400.43" width="21.15" height="45.29" fill="#f3e53c"/>
<rect x="550.65" y="445.73" width="21.15" height="89.57" fill="#d55e00"/>
<clipPath id="c27"><rect x="550.65" y="400.43" width="21.15" height="134.87"/></clipPath>
<path d="M548.65 385.65L573.80 362.39M548.65 399.35L573.80 376.09M548.65 413.05L573.80 389.79M548.65 426.75L573.80 403.49M548.65 440.45L573.80 417.19M548.65 454.15L573.80 430.89M548.65 467.85L573.80 444.59M548.65 481.55L573.80 458.29M548.65 495.25L573.80 471.99M548.65 508.95L573.80 485.69M548.65 522.65L573.80 499.39M548.65 536.35L573.80 513.09M548.65 550.05L573.80 526.79M548.65 563.75L573.80 540.49M548.65 577.45L573.80 554.19" stroke="#0d0d0d" stroke-width="1.1" fill="none" clip-path="url(#c27)"/>
<rect x="550.65" y="400.43" width="21.15" height="45.29" fill="none" stroke="#1a1a1a" stroke-width="1"/>
<rect x="550.65" y="445.73" width="21.15" height="89.57" fill="none" stroke="#1a1a1a" stroke-width="1"/>
<rect x="552.62" y="514.10" width="17.2" height="15.5" fill="#fff"/>
<text x="561.23" y="526.10" font-size="13" font-weight="bold" text-anchor="middle" fill="#111">9</text>
<text x="541.38" y="549.80" font-size="10.1" text-anchor="middle" fill="#222">Temporal pattern</text>
<text x="541.38" y="563.50" font-size="10.1" text-anchor="middle" fill="#222">within years</text>
<path d="M56.6 333.1H595.05V535.35" fill="none" stroke="#2a2a2a" stroke-width="1.3"/>
<path d="M56.6 333.1V535.35" fill="none" stroke="#2a2a2a" stroke-width="1.2"/>
<path d="M52 535.35H595.05" fill="none" stroke="#2a2a2a" stroke-width="1.3"/>
<path d="M52 494.90H56.6" stroke="#2a2a2a" stroke-width="1.2"/>
<path d="M52 454.45H56.6" stroke="#2a2a2a" stroke-width="1.2"/>
<path d="M52 414.00H56.6" stroke="#2a2a2a" stroke-width="1.2"/>
<path d="M52 373.55H56.6" stroke="#2a2a2a" stroke-width="1.2"/>
<path d="M52 333.10H56.6" stroke="#2a2a2a" stroke-width="1.2"/>
<text x="46.2" y="539.70" font-size="12.4" text-anchor="end" fill="#111">0</text>
<text x="46.2" y="499.26" font-size="12.4" text-anchor="end" fill="#111">20</text>
<text x="46.2" y="458.82" font-size="12.4" text-anchor="end" fill="#111">40</text>
<text x="46.2" y="418.38" font-size="12.4" text-anchor="end" fill="#111">60</text>
<text x="46.2" y="377.94" font-size="12.4" text-anchor="end" fill="#111">80</text>
<text x="46.2" y="337.50" font-size="12.4" text-anchor="end" fill="#111">100</text>
<text transform="translate(18.2,434.4) rotate(-90)" font-size="15.35" text-anchor="middle" fill="#111">Affirmative responses (%)</text>
<rect x="108.4" y="591.50" width="27.2" height="8.8" rx="0.8" fill="#0a6476" stroke="#1a1a1a" stroke-width="1.2"/>
<text x="142.8" y="600.60" font-size="12.45" fill="#111">I report this source</text>
<rect x="108.4" y="607.40" width="27.2" height="8.8" rx="0.8" fill="#57b6ed" stroke="#1a1a1a" stroke-width="1.2"/>
<text x="142.8" y="616.50" font-size="12.45" fill="#111">I know how to report this source</text>
<rect x="108.4" y="623.30" width="27.2" height="8.8" rx="0.8" fill="#f3e53c" stroke="#1a1a1a" stroke-width="1.2"/>
<text x="142.8" y="632.40" font-size="12.45" fill="#111">This is occasionally important</text>
<rect x="108.4" y="639.20" width="27.2" height="8.8" rx="0.8" fill="#d55e00" stroke="#1a1a1a" stroke-width="1.2"/>
<text x="142.8" y="648.30" font-size="12.45" fill="#111">This is often important</text>
<clipPath id="lg0"><rect x="343.2" y="591.10" width="27.60" height="8.90"/></clipPath>
<rect x="343.2" y="591.10" width="27.60" height="8.90" rx="1" fill="none" stroke="#3a3a3a" stroke-width="1.4"/>
<text x="377.6" y="600.40" font-size="12.45" fill="#111">Natural variability</text>
<clipPath id="lg1"><rect x="343.2" y="607.00" width="27.60" height="8.90"/></clipPath>
<path d="M343.50 607.00L350.30 615.90L357.10 607.00L363.90 615.90L370.70 607.00" stroke="#222" stroke-width="1.2" fill="none" clip-path="url(#lg1)"/>
<rect x="343.2" y="607.00" width="27.60" height="8.90" rx="1" fill="none" stroke="#3a3a3a" stroke-width="1.4"/>
<text x="377.6" y="616.30" font-size="12.45" fill="#111">Measurement error</text>
<clipPath id="lg2"><rect x="343.2" y="622.90" width="27.60" height="8.90"/></clipPath>
<path d="M325.40 620.90L338.30 633.80M339.00 620.90L351.90 633.80M352.60 620.90L365.50 633.80M366.20 620.90L379.10 633.80" stroke="#222" stroke-width="1.2" fill="none" clip-path="url(#lg2)"/>
<rect x="343.2" y="622.90" width="27.60" height="8.90" rx="1" fill="none" stroke="#3a3a3a" stroke-width="1.4"/>
<text x="377.6" y="632.20" font-size="12.45" fill="#111">Model selection</text>
<clipPath id="lg3"><rect x="343.2" y="638.80" width="27.60" height="8.90"/></clipPath>
<path d="M338.60 649.70L351.50 636.80M352.20 649.70L365.10 636.80M365.80 649.70L378.70 636.80M379.40 649.70L392.30 636.80" stroke="#222" stroke-width="1.2" fill="none" clip-path="url(#lg3)"/>
<rect x="343.2" y="638.80" width="27.60" height="8.90" rx="1" fill="none" stroke="#3a3a3a" stroke-width="1.4"/>
<text x="377.6" y="648.10" font-size="12.45" fill="#111">Model fit</text>
</svg></body></html>
